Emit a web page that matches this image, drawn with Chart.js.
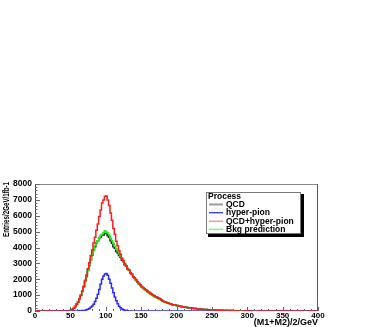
<!DOCTYPE html>
<html>
<head>
<meta charset="utf-8">
<script src="https://cdn.jsdelivr.net/npm/chart.js@4.4.1/dist/chart.umd.min.js"></script>
<style>
  html, body { margin: 0; padding: 0; background: #fff; }
  canvas { display: block; }
</style>
</head>
<body>
<canvas id="massChart" width="382" height="327"></canvas>
<script>
// histogram bins: 2 GeV wide, first filled bin starts at 40 GeV
const firstBin = 40;
const binWidth = 2;
const xMin = 0, xMax = 400, xStep = 50, xMinorStep = 10;
const yMin = 0, yMax = 8000, yStep = 1000, yMinorStep = 200;

const qcd = [
  0, 0, 0, 0, 10, 40, 90, 170, 280, 420,
  560, 760, 980, 1250, 1520, 1880, 2180, 2560, 2870, 3250,
  3530, 3860, 4040, 4290, 4430, 4610, 4660, 4800, 4790, 4900,
  4880, 4740, 4650, 4420, 4260, 4050, 3950, 3750, 3660, 3490,
  3380, 3200, 3100, 2910, 2830, 2640, 2580, 2400, 2320, 2150,
  2080, 1960, 1840, 1740, 1650, 1550, 1470, 1400, 1320, 1250,
  1180, 1120, 1060, 1000, 950, 890, 850, 800, 760, 700,
  610, 580, 550, 520, 490, 460, 430, 400, 375, 355,
  340, 320, 300, 280, 265, 250, 240, 225, 210, 200,
  185, 175, 165, 150, 140, 130, 125, 115, 105, 100,
  95, 88, 80, 75, 70, 65, 60, 58, 52, 48,
  45, 42, 40, 36, 34, 32, 30, 28, 26, 24,
  22, 20, 19, 18, 16, 15, 14, 12, 12, 10
];

const hyperPion = [
  0, 0, 0, 0, 0, 0, 0, 0, 0, 0,
  5, 10, 15, 25, 35, 55, 80, 115, 165, 230,
  320, 430, 600, 800, 1050, 1350, 1700, 2000, 2200, 2330,
  2370, 2250, 2000, 1750, 1450, 1150, 880, 650, 450, 300,
  200, 120, 80, 45, 25, 12, 6, 3, 0, 0,
  0, 0, 0, 0, 0, 0, 0, 0, 0, 0,
  0, 0, 0, 0, 0, 0, 0, 0, 0, 0,
  0, 0, 0, 0, 0, 0, 0, 0, 0, 0,
  0, 0, 0, 0, 0, 0, 0, 0, 0, 0,
  0, 0, 0, 0, 0, 0, 0, 0, 0, 0,
  0, 0, 0, 0, 0, 0, 0, 0, 0, 0,
  0, 0, 0, 0, 0, 0, 0, 0, 0, 0,
  0, 0, 0, 0, 0, 0, 0, 0, 0, 0
];

const qcdPlusHyper = [
  0, 0, 0, 0, 10, 40, 90, 170, 280, 420,
  565, 770, 995, 1275, 1555, 1935, 2260, 2675, 3035, 3480,
  3850, 4290, 4640, 5090, 5480, 5960, 6360, 6800, 6990, 7230,
  7250, 6990, 6650, 6170, 5710, 5200, 4830, 4400, 4110, 3790,
  3580, 3320, 3180, 2955, 2855, 2652, 2586, 2403, 2320, 2150,
  2080, 1960, 1840, 1740, 1650, 1550, 1470, 1400, 1320, 1250,
  1180, 1120, 1060, 1000, 950, 890, 850, 800, 760, 700,
  610, 580, 550, 520, 490, 460, 430, 400, 375, 355,
  340, 320, 300, 280, 265, 250, 240, 225, 210, 200,
  185, 175, 165, 150, 140, 130, 125, 115, 105, 100,
  95, 88, 80, 75, 70, 65, 60, 58, 52, 48,
  45, 42, 40, 36, 34, 32, 30, 28, 26, 24,
  22, 20, 19, 18, 16, 15, 14, 12, 12, 10
];

const bkgPrediction = [
  0, 0, 0, 0, 15, 50, 100, 160, 290, 400,
  580, 740, 1000, 1230, 1560, 1850, 2220, 2530, 2900, 3220,
  3560, 3790, 4120, 4280, 4430, 4620, 4750, 4830, 4950, 5060,
  4980, 4920, 4790, 4600, 4420, 4250, 4080, 3900, 3760, 3600,
  3450, 3290, 3130, 2990, 2840, 2700, 2570, 2430, 2280, 2150,
  2030, 1910, 1800, 1690, 1590, 1500, 1410, 1340, 1270, 1190,
  1130, 1060, 1010, 950, 900, 850, 800, 760, 720, 680,
  600, 570, 545, 515, 485, 455, 425, 400, 375, 352,
  335, 318, 300, 285, 265, 250, 235, 225, 210, 200,
  185, 175, 160, 150, 140, 132, 122, 115, 106, 100,
  93, 88, 82, 76, 70, 66, 61, 57, 53, 49,
  46, 42, 39, 37, 34, 32, 30, 28, 26, 24,
  22, 21, 19, 18, 17, 15, 14, 13, 12, 11
];

const seriesLabels = ['QCD', 'hyper-pion', 'QCD+hyper-pion', 'Bkg prediction'];
const lineColors = ['#222222', '#2a2aff', '#ff1a1a', '#1eea1e'];
const legendColors = ['#9a9a9a', '#3434ff', '#ff8a8a', '#66ff66'];
const legendTitle = 'Process';
const xTitle = '(M1+M2)/2/GeV';
const yTitle = 'Entries/2GeV/1fb-1';

// stepped histogram: each value covers [low edge, low edge + binWidth]
function toHistPoints(values) {
  const pts = [{ x: xMin, y: 0 }];
  values.forEach((v, i) => pts.push({ x: firstBin + i * binWidth, y: v }));
  pts.push({ x: firstBin + values.length * binWidth, y: 0 });
  pts.push({ x: xMax, y: 0 });
  return pts;
}

const allSeries = [qcd, hyperPion, qcdPlusHyper, bkgPrediction];
const drawOrder = [4, 2, 1, 3]; // lower = on top
const datasets = allSeries.map((vals, i) => ({
  label: seriesLabels[i],
  data: toHistPoints(vals),
  borderColor: lineColors[i],
  borderWidth: 1.5,
  pointRadius: 0,
  fill: false,
  stepped: true,
  order: drawOrder[i]
}));

// ROOT style frame with inner ticks
const rootFrame = {
  id: 'rootFrame',
  afterDatasetsDraw(chart) {
    const { ctx, chartArea: a, scales: { x, y } } = chart;
    ctx.save();
    ctx.lineWidth = 1;
    // top and right frame lines
    ctx.strokeStyle = '#8a8a8a';
    ctx.beginPath();
    ctx.moveTo(a.left, a.top + 0.5);
    ctx.lineTo(a.right, a.top + 0.5);
    ctx.stroke();
    ctx.strokeStyle = '#a03c3c';
    ctx.beginPath();
    ctx.moveTo(a.right - 0.5, a.top);
    ctx.lineTo(a.right - 0.5, a.bottom);
    ctx.stroke();
    // axes
    ctx.strokeStyle = '#444';
    ctx.beginPath();
    ctx.moveTo(a.left + 0.5, a.top);
    ctx.lineTo(a.left + 0.5, a.bottom);
    ctx.stroke();
    // y ticks
    ctx.strokeStyle = '#666';
    for (let v = yMin; v <= yMax; v += yMinorStep) {
      const py = Math.round(y.getPixelForValue(v)) + 0.5;
      const len = v % yStep === 0 ? 5 : 2.5;
      ctx.beginPath();
      ctx.moveTo(a.left, py);
      ctx.lineTo(a.left + len, py);
      ctx.stroke();
    }
    // x ticks
    for (let v = xMin; v <= xMax; v += xMinorStep) {
      const px = Math.round(x.getPixelForValue(v)) + 0.5;
      const len = v % xStep === 0 ? 4 : 2;
      ctx.beginPath();
      ctx.moveTo(px, a.bottom);
      ctx.lineTo(px, a.bottom - len);
      ctx.stroke();
    }
    ctx.restore();
  },
  afterDraw(chart) {
    const { ctx, chartArea: a } = chart;
    ctx.save();
    ctx.fillStyle = '#000';
    // x title, right aligned under the axis
    ctx.font = 'bold 9px "Liberation Sans", Arial, sans-serif';
    ctx.textAlign = 'right';
    ctx.textBaseline = 'alphabetic';
    ctx.fillText(xTitle, a.right, 325);
    // y title, rotated, ending at the top of the frame
    ctx.font = 'bold 8.5px "Liberation Sans", Arial, sans-serif';
    const w = ctx.measureText(yTitle).width;
    const sc = 55 / w;
    ctx.translate(8.5, a.top - 2);
    ctx.rotate(-Math.PI / 2);
    ctx.scale(sc, 1);
    ctx.textAlign = 'right';
    ctx.fillText(yTitle, 0, 0);
    ctx.restore();

    // legend box with shadow
    const lx = 206, ly = 192, lw = 95, lh = 42;
    ctx.save();
    ctx.fillStyle = '#000';
    ctx.fillRect(lx + 2, ly + 2, lw + 1, lh + 1);
    ctx.fillStyle = '#fff';
    ctx.fillRect(lx, ly, lw, lh);
    ctx.strokeStyle = '#777';
    ctx.lineWidth = 1;
    ctx.strokeRect(lx + 0.5, ly + 0.5, lw - 1, lh - 1);
    ctx.fillStyle = '#000';
    ctx.font = 'bold 8.5px "Liberation Sans", Arial, sans-serif';
    ctx.textAlign = 'left';
    ctx.textBaseline = 'middle';
    ctx.fillText(legendTitle, lx + 2, ly + 5);
    const rowY = [204.5, 212.7, 221.3, 229.3];
    seriesLabels.forEach((name, i) => {
      ctx.strokeStyle = legendColors[i];
      ctx.lineWidth = i === 0 ? 2 : 1.3;
      ctx.beginPath();
      ctx.moveTo(lx + 3, rowY[i]);
      ctx.lineTo(lx + 17, rowY[i]);
      ctx.stroke();
      ctx.fillStyle = '#000';
      ctx.fillText(name, lx + 20, rowY[i]);
    });
    ctx.restore();
  }
};

const tickFont = { family: '"Liberation Sans", Arial, sans-serif', size: 8.5, weight: 'bold' };

new Chart(document.getElementById('massChart'), {
  type: 'line',
  data: { datasets },
  options: {
    responsive: false,
    animation: false,
    devicePixelRatio: 1,
    layout: { padding: { top: 184, right: 64, left: 0, bottom: 0 } },
    plugins: { legend: { display: false }, tooltip: { enabled: false } },
    scales: {
      x: {
        type: 'linear',
        min: xMin,
        max: xMax,
        grid: { display: false, drawTicks: false },
        border: { display: false },
        ticks: {
          stepSize: xStep, color: '#000', font: { ...tickFont, size: 8 }, padding: 0,
          maxRotation: 0, autoSkip: false,
          callback: value => String(value)
        },
        afterFit(scale) { scale.height = 16; }
      },
      y: {
        min: yMin,
        max: yMax,
        grid: { display: false, drawTicks: false },
        border: { display: false },
        ticks: {
          stepSize: yStep, color: '#000', font: tickFont, padding: 3,
          callback: value => String(value)
        },
        afterFit(scale) { scale.width = 35; }
      }
    }
  },
  plugins: [rootFrame]
});
</script>
</body>
</html>
